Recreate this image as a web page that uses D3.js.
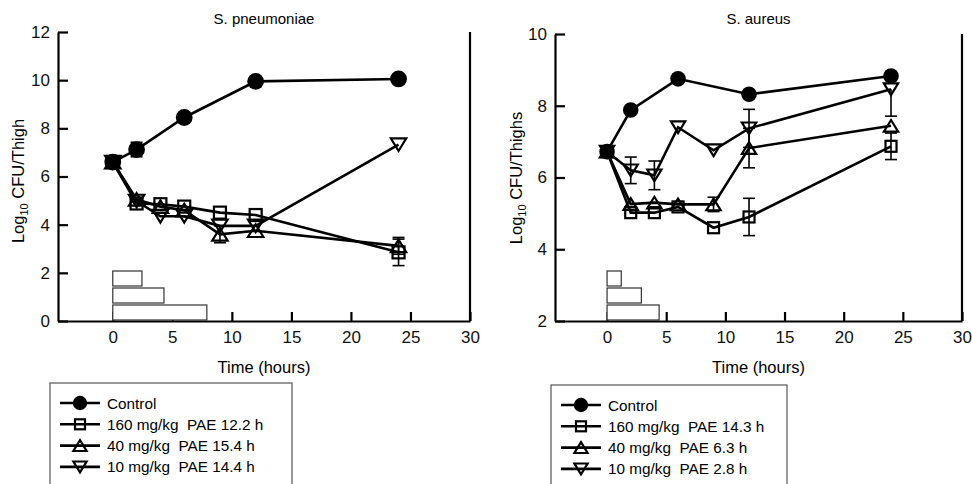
<!DOCTYPE html>
<html>
<head>
<meta charset="utf-8">
<script src="https://cdn.jsdelivr.net/npm/d3@7"></script>
<style>
  body { margin: 0; background: #fff; }
  svg { display: block; font-family: "Liberation Sans", Arial, Helvetica, sans-serif; }
  .leg text { white-space: pre; }
</style>
</head>
<body>
<svg id="chart" width="972" height="484"></svg>
<script>
// sampling times (hours)
const times = [0, 2, 4, 6, 9, 12, 24]
const controlTimes = [0, 2, 6, 12, 24]
const xTicks = [0, 5, 10, 15, 20, 25, 30]
const legendShapes = ["circle", "square", "up", "down"]

// S. pneumoniae
const spnYTicks = [0, 2, 4, 6, 8, 10, 12]
const spnControl = [6.6, 7.12, 8.45, 9.95, 10.05]
const spnControlErr = [0.2, 0.3, 0, 0, 0]
const spn160 = [6.6, 4.88, 4.85, 4.75, 4.5, 4.4, 2.85]
const spn160Err = [0, 0, 0, 0, 0, 0, 0.55]
const spn40 = [6.6, 5.05, 4.75, 4.6, 3.6, 3.75, 3.12]
const spn40Err = [0, 0, 0, 0, 0.35, 0, 0.35]
const spn10 = [6.6, 4.98, 4.35, 4.35, 3.95, 3.95, 7.32]
const spn10Err = [0, 0, 0, 0, 0, 0, 0]
const spnDoses = [2.45, 4.3, 7.9]   // top, middle, bottom bars (hours)
const spnLegend = ["Control", "160 mg/kg  PAE 12.2 h", "40 mg/kg  PAE 15.4 h", "10 mg/kg  PAE 14.4 h"]

// S. aureus
const saYTicks = [2, 4, 6, 8, 10]
const saControl = [6.72, 7.88, 8.75, 8.32, 8.83]
const saControlErr = [0, 0, 0, 0, 0]
const sa160 = [6.72, 5.02, 5.02, 5.18, 4.6, 4.9, 6.87]
const sa160Err = [0, 0, 0, 0, 0, 0.52, 0.37]
const sa40 = [6.72, 5.26, 5.3, 5.25, 5.25, 6.82, 7.44]
const sa40Err = [0, 0, 0, 0, 0.2, 0.55, 0]
const sa10 = [6.72, 6.2, 6.06, 7.4, 6.76, 7.37, 8.46]
const sa10Err = [0, 0.37, 0.4, 0, 0, 0.53, [0.75, 0]]   // [below, above] where one-sided
const saDoses = [1.2, 2.9, 4.4]
const saLegend = ["Control", "160 mg/kg  PAE 14.3 h", "40 mg/kg  PAE 6.3 h", "10 mg/kg  PAE 2.8 h"]

const svg = d3.select("#chart")

const triPath = (s, down) => {
  const h = s * 0.9, w = s * 0.55
  return down
    ? `M${-w},${-h / 2}L${w},${-h / 2}L0,${h / 2}Z`
    : `M${-w},${h / 2}L${w},${h / 2}L0,${-h / 2}Z`
}

const drawMarker = (g, shape, cx, cy, size) => {
  if (shape === "circle") {
    g.append("circle").attr("cx", cx).attr("cy", cy).attr("r", size * 0.6).attr("fill", "#000")
  } else if (shape === "square") {
    g.append("rect")
      .attr("x", cx - size / 2 + 1).attr("y", cy - size / 2 + 1)
      .attr("width", size - 2).attr("height", size - 2)
      .attr("fill", "none").attr("stroke", "#000").attr("stroke-width", 2.2)
  } else {
    g.append("path")
      .attr("transform", `translate(${cx},${cy})`)
      .attr("d", triPath(size, shape === "down"))
      .attr("fill", "none").attr("stroke", "#000").attr("stroke-width", 2.2)
  }
}

const drawPanel = p => {
  const g = svg.append("g")
  const x = d3.scaleLinear().domain(p.xDomain).range([p.left, p.right])
  const y = d3.scaleLinear().domain(p.yDomain).range([p.bottom, p.top])

  const yAxis = g.append("g")
    .attr("transform", `translate(${p.left},0)`)
    .call(d3.axisLeft(y).tickValues(p.yTicks).tickSizeInner(-10).tickSizeOuter(0).tickPadding(8))
  const xAxis = g.append("g")
    .attr("transform", `translate(0,${p.bottom})`)
    .call(d3.axisBottom(x).tickValues(xTicks).tickSizeInner(-9).tickSizeOuter(0).tickPadding(10))
  ;[xAxis, yAxis].forEach(a => {
    a.select(".domain").attr("stroke-width", 2.2)
    a.selectAll(".tick line").attr("stroke-width", 2.2)
    a.selectAll(".tick text").attr("font-size", 17).attr("fill", "#111")
      .style("font-family", '"Liberation Sans", Arial, sans-serif')
  })
  g.append("line")
    .attr("x1", p.right).attr("x2", p.right)
    .attr("y1", p.top).attr("y2", p.bottom)
    .attr("stroke", "#000").attr("stroke-width", 2.2)

  // dosing bars
  p.doses.forEach((d, i) => {
    const yb = p.bottom - 1 - (2 - i) * 17
    g.append("rect")
      .attr("x", x(0)).attr("y", yb - 15)
      .attr("width", x(d) - x(0)).attr("height", 15)
      .attr("fill", "#fff").attr("stroke", "#333").attr("stroke-width", 1.2)
  })

  // titles
  const cx = (p.left + p.right) / 2
  g.append("text").attr("x", cx).attr("y", 24).attr("text-anchor", "middle")
    .attr("font-size", 15).text(p.title)
  g.append("text").attr("x", cx).attr("y", 373).attr("text-anchor", "middle")
    .attr("font-size", 16.5).text("Time (hours)")
  const yl = g.append("text")
    .attr("transform", `translate(${p.yLabelX},${p.yLabelY}) rotate(-90)`)
    .attr("text-anchor", "middle").attr("font-size", 16.5)
  yl.append("tspan").text("Log")
  yl.append("tspan").attr("font-size", 11).attr("dy", 4).text("10")
  yl.append("tspan").attr("dy", -4).text(" " + p.yLabel)

  const line = d3.line().x(d => x(d.t)).y(d => y(d.v))
  const series = p.series.map(s => ({
    shape: s.shape,
    pts: s.t.map((t, i) => {
      const e = s.e[i]
      const [lo, hi] = Array.isArray(e) ? e : [e, e]
      return { t, v: s.v[i], lo, hi }
    })
  }))

  series.forEach(s => {
    g.append("path").datum(s.pts).attr("d", line)
      .attr("fill", "none").attr("stroke", "#000").attr("stroke-width", 2.6)
  })
  series.forEach(s => {
    s.pts.filter(d => d.lo > 0 || d.hi > 0).forEach(d => {
      const xx = x(d.t)
      g.append("line").attr("x1", xx).attr("x2", xx)
        .attr("y1", y(d.v - d.lo)).attr("y2", y(d.v + d.hi))
        .attr("stroke", "#000").attr("stroke-width", 1.6)
      ;[d.lo > 0 ? d.v - d.lo : null, d.hi > 0 ? d.v + d.hi : null]
        .filter(v => v !== null)
        .forEach(v => {
          g.append("line").attr("x1", xx - 6).attr("x2", xx + 6)
            .attr("y1", y(v)).attr("y2", y(v))
            .attr("stroke", "#000").attr("stroke-width", 1.6)
        })
    })
  })
  series.forEach(s => {
    s.pts.forEach(d => drawMarker(g, s.shape, x(d.t), y(d.v), p.markerSize))
  })

  // legend
  const lg = g.append("g").attr("class", "leg")
  lg.append("rect")
    .attr("x", p.legend.x).attr("y", p.legend.y)
    .attr("width", p.legend.w).attr("height", 120)
    .attr("fill", "#fff").attr("stroke", "#555").attr("stroke-width", 1.2)
  p.legendLabels.forEach((lab, i) => {
    const ly = p.legend.y + 20 + i * 21.3
    const lx = p.legend.x + 10
    lg.append("line").attr("x1", lx).attr("x2", lx + 40).attr("y1", ly).attr("y2", ly)
      .attr("stroke", "#000").attr("stroke-width", 2.6)
    drawMarker(lg, legendShapes[i], lx + 20, ly, 12)
    lg.append("text").attr("x", lx + 47).attr("y", ly).attr("dy", "0.36em")
      .attr("font-size", 15.3).text(lab)
  })
}

drawPanel({
  left: 58, right: 470, top: 32, bottom: 321,
  xDomain: [-4.6, 30], yDomain: [0, 12], yTicks: spnYTicks,
  title: "S. pneumoniae", yLabel: "CFU/Thigh", yLabelX: 24, yLabelY: 181,
  doses: spnDoses, markerSize: 14,
  // drawn in this order, control last
  series: [
    { shape: "down", t: times, v: spn10, e: spn10Err },
    { shape: "up", t: times, v: spn40, e: spn40Err },
    { shape: "square", t: times, v: spn160, e: spn160Err },
    { shape: "circle", t: controlTimes, v: spnControl, e: spnControlErr }
  ],
  legend: { x: 50, y: 383, w: 242 },
  legendLabels: spnLegend
})

drawPanel({
  left: 555, right: 962, top: 34, bottom: 321,
  xDomain: [-4.4, 30], yDomain: [2, 10], yTicks: saYTicks,
  title: "S. aureus", yLabel: "CFU/Thighs", yLabelX: 522, yLabelY: 178,
  doses: saDoses, markerSize: 13,
  series: [
    { shape: "down", t: times, v: sa10, e: sa10Err },
    { shape: "up", t: times, v: sa40, e: sa40Err },
    { shape: "square", t: times, v: sa160, e: sa160Err },
    { shape: "circle", t: controlTimes, v: saControl, e: saControlErr }
  ],
  legend: { x: 551, y: 385, w: 236 },
  legendLabels: saLegend
})
</script>
</body>
</html>
